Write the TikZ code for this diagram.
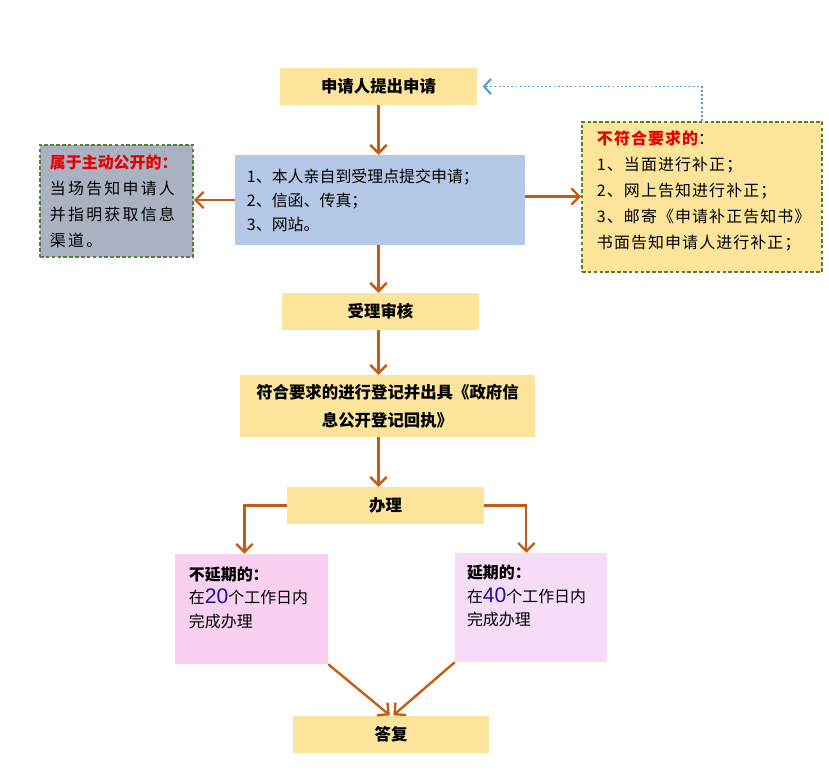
\documentclass[tikz,border=0pt]{standalone}
\usepackage{fontspec}
\setmainfont{Noto Sans CJK SC}
\newfontfamily\widecjk[LetterSpace=14]{Noto Sans CJK SC}
\newfontfamily\loosecjk[LetterSpace=7]{Noto Sans CJK SC}
\newfontfamily\numfont{Liberation Sans}
\usetikzlibrary{arrows.meta}

\definecolor{stagefill}{RGB}{252,229,155}
\definecolor{waysfill}{RGB}{180,199,231}
\definecolor{pubfill}{RGB}{170,178,194}
\definecolor{pinkA}{RGB}{249,208,240}
\definecolor{pinkB}{RGB}{245,221,247}
\definecolor{notegreen}{RGB}{84,130,53}
\definecolor{flowbrown}{RGB}{197,90,17}
\definecolor{backblue}{RGB}{91,155,213}
\definecolor{numblue}{RGB}{20,20,150}
\definecolor{headred}{RGB}{230,0,0}

\newcommand{\daynum}[1]{\textcolor{numblue}{\numfont\fontsize{18}{18}\selectfont #1}}

\tikzset{
  stage/.style={fill=stagefill, minimum width=5.88cm, minimum height=1.11cm,
    inner sep=0pt, font=\fontsize{14}{24}\selectfont\bfseries},
  note/.style={draw=notegreen, dash pattern=on 3pt off 2pt, line width=1.3pt},
  wait/.style={inner xsep=0.42cm, inner ysep=0.38cm, font=\fontsize{13.6}{20}\selectfont},
  flow/.style={draw=flowbrown, line width=2pt,
    -{Straight Barb[length=7pt,width=14pt,line width=2pt]}},
  back/.style={draw=backblue, line width=1.6pt, dotted,
    -{Straight Barb[length=6pt,width=13pt,line width=1.8pt]}}
}

\begin{document}
\begin{tikzpicture}[x=0.03cm, y=-0.03cm, font=\fontsize{13.6}{20.5}\selectfont]
  \useasboundingbox (0,0) rectangle (829,775);

  % main line
  \node [stage] (apply) at (378.5,86.5) {申请人提出申请};
  \node [fill=waysfill, minimum width=8.7cm, minimum height=2.7cm,
         text width=7.98cm, inner xsep=0.36cm, align=left] (ways) at (380,200)
        {1、本人亲自到受理点提交申请；\\2、信函、传真；\\3、网站。};
  \node [stage] (check) at (380.5,311.5) {受理审核};
  \node [stage, minimum width=8.85cm, minimum height=1.86cm, text width=8.5cm,
         align=center] (reg) at (387.5,406)
        {符合要求的进行登记并出具《政府信\\息公开登记回执》};
  \node [stage] (deal) at (385.5,505.5) {办理};
  \node [stage] (reply) at (391,734) {答复};

  % side notes
  \node [note, fill=pubfill, minimum width=4.59cm, minimum height=3.36cm,
         text width=3.99cm, inner xsep=0.3cm, align=left,
         font=\fontsize{13.6}{22.2}\selectfont] (pub) at (116.5,201)
        {\textcolor{headred}{\bfseries 属于主动公开的：}\\
         \widecjk 当场告知申请人\\\widecjk 并指明获取信息\\\widecjk 渠道。};
  \node [note, fill=stagefill, inner xsep=0.45cm, inner ysep=0.25cm,
         font=\fontsize{13.6}{22.2}\selectfont] (fix) at (702,197)
        {\parbox[c][4.0cm][t]{6.3cm}{\loosecjk
         \textcolor{headred}{\bfseries 不符合要求的}：\\
         1、当面进行补正；\\
         2、网上告知进行补正；\\
         3、邮寄《申请补正告知书》\\
         书面告知申请人进行补正；}};

  % time limits
  \node [wait, fill=pinkA] (late) at (251.5,609)
        {\parbox[c][2.54cm][t]{3.75cm}{{\bfseries 不延期的：}\\
         在\daynum{20}个工作日内\\完成办理}};
  \node [wait, fill=pinkB, inner xsep=0.36cm, inner ysep=0.36cm] (ext) at (531,607.5)
        {\parbox[c][2.55cm][t]{3.84cm}{{\bfseries 延期的：}\\
         在\daynum{40}个工作日内\\完成办理}};

  % connectors
  \draw [flow] (apply.south) -- (apply.south |- ways.north);
  \draw [flow] (ways.west) -- (ways.west -| pub.east);
  \draw [flow] ([yshift=3pt]ways.east) -- ([yshift=3pt]ways.east -| fix.west);
  \draw [back] (fix.north) |- ([xshift=5pt]apply.east);
  \draw [flow] (apply.south |- ways.south) -- (apply.south |- check.north);
  \draw [flow] (apply.south |- check.south) -- (apply.south |- reg.north);
  \draw [flow] (apply.south |- reg.south) -- (apply.south |- deal.north);
  \draw [flow] (deal.west) -| ([xshift=-6pt]late.north);
  \draw [flow] (deal.east) -| ([xshift=-4pt]ext.north);
  \draw [flow] (late.south east) -- ([xshift=-1pt]reply.north);
  \draw [flow] (ext.south west) -- ([xshift=2pt]reply.north);
\end{tikzpicture}
\end{document}
